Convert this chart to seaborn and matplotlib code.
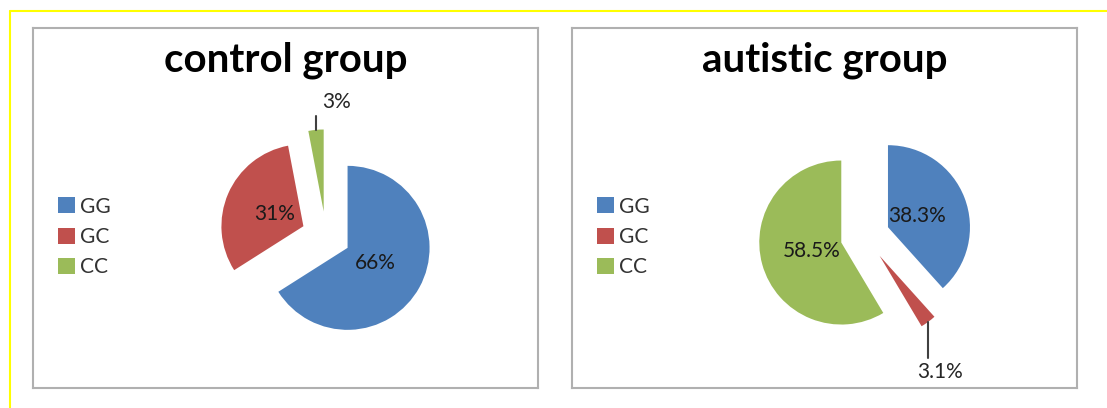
import numpy as np
import matplotlib
matplotlib.use("Agg")
import matplotlib.pyplot as plt
from matplotlib.lines import Line2D
import seaborn as sns

# ===============================
# DATA
# ===============================
genotypes = ["GG", "GC", "CC"]
control_pct = [66, 31, 3]
autistic_pct = [38.3, 3.1, 58.5]
control_labels = ["66%", "31%", "3%"]
autistic_labels = ["38.3%", "3.1%", "58.5%"]
group_titles = ["control group", "autistic group"]

# ===============================
# STYLE
# ===============================
sns.set_theme(style="white")
plt.rcParams["font.family"] = ["Lato", "DejaVu Sans"]
colors = sns.color_palette(["#4f81bd", "#c0504d", "#9bbb59"])

W, H = 1107, 408
R_PX = 82              # pie radius in pixels
CX, CY = 293, 208      # pie centre inside a panel (px from panel top-left)
PW, PH = 505, 360      # panel size
panel_pos = [(33, 28), (572, 28)]
# leader line for small slices: direction (+1 up / -1 down), length px, text x shift px
leaders = [(1, 14, 6, "left"), (-1, 36, 12, "center")]

fig = plt.figure(figsize=(W / 100, H / 100), dpi=100)
fig.patch.set_facecolor("white")

series = [(control_pct, control_labels), (autistic_pct, autistic_labels)]

for i, (vals, labs) in enumerate(series):
    x0, y0 = panel_pos[i]
    ax = fig.add_axes([x0 / W, 1 - (y0 + PH) / H, PW / W, PH / H])
    wedges, _ = ax.pie(vals, colors=colors, startangle=90, counterclock=False,
                       explode=[0.3] * len(vals), radius=1,
                       wedgeprops=dict(linewidth=0))
    ax.set_xlim(-CX / R_PX, (PW - CX) / R_PX)
    ax.set_ylim(-(PH - CY) / R_PX, CY / R_PX)
    ax.set_frame_on(True)
    for s in ax.spines.values():
        s.set_visible(True)
        s.set_color("#b0b0b0")
        s.set_linewidth(1.5)

    # slice labels
    d, llen, tx, ha = leaders[i]
    for w, v, lab in zip(wedges, vals, labs):
        th = np.deg2rad((w.theta1 + w.theta2) / 2)
        cx, cy = w.center
        if v >= 5:
            ax.text(cx + 0.38 * np.cos(th), cy + 0.38 * np.sin(th), lab,
                    ha="center", va="center", fontsize=15, color="#1a1a1a")
        else:
            tipx, tipy = cx + np.cos(th), cy + np.sin(th)
            endy = tipy + d * llen / R_PX
            ax.plot([tipx, tipx], [tipy, endy], color="#404040", lw=1.5)
            ax.text(tipx + tx / R_PX, endy + d * 4 / R_PX, lab,
                    ha=ha, va="bottom" if d > 0 else "top",
                    fontsize=15, color="#262626")

    ax.text(0.5, 1 - 32 / PH, group_titles[i], transform=ax.transAxes,
            ha="center", va="center", fontsize=29, fontweight="bold", color="black")

    ax.legend(wedges, genotypes, loc="center left",
              bbox_to_anchor=(25 / PW, 1 - 209 / PH), frameon=False,
              fontsize=15, handlelength=0.8, handleheight=0.8,
              handletextpad=0.25, labelspacing=0.5, borderpad=0,
              borderaxespad=0, labelcolor="#333333")

# yellow frame lines
fig.add_artist(Line2D([10 / W, 1], [1 - 11 / H, 1 - 11 / H], color="#ffff00",
                      lw=1.5, transform=fig.transFigure))
fig.add_artist(Line2D([10 / W, 10 / W], [0, 1 - 11 / H], color="#ffff00",
                      lw=1.5, transform=fig.transFigure))

fig.savefig("out.png", dpi=100)
